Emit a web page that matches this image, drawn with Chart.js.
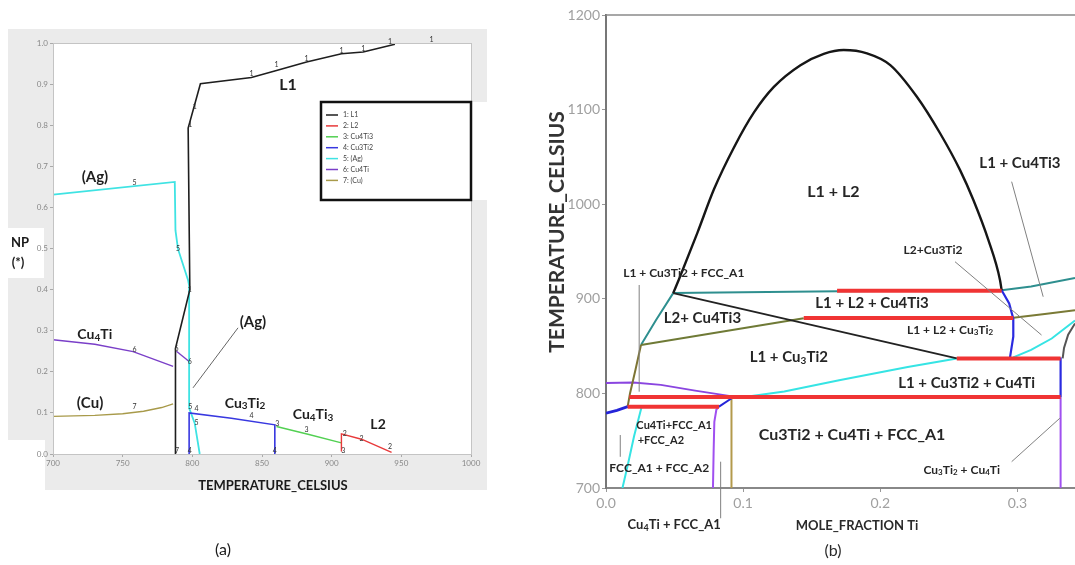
<!DOCTYPE html>
<html>
<head>
<meta charset="utf-8">
<script src="https://cdn.jsdelivr.net/npm/chart.js@4.4.0/dist/chart.umd.min.js"></script>
<style>
body { margin: 0; width: 1075px; height: 565px; background: #fff; position: relative; overflow: hidden; }
.bg { position: absolute; background: #ebebeb; }
.wh { position: absolute; background: #fff; }
canvas { position: absolute; top: 0; }
#ca { left: 0; }
#cb { left: 540px; }
</style>
</head>
<body>
<div class="bg" style="left:8px;top:29px;width:479px;height:461px"></div>
<div class="wh" style="left:8px;top:440px;width:37px;height:50px"></div>
<div class="wh" style="left:471px;top:102px;width:16px;height:98px"></div>
<div class="wh" style="left:8px;top:228px;width:36px;height:50px"></div>
<canvas id="ca" width="540" height="565"></canvas>
<canvas id="cb" width="535" height="565"></canvas>
<script>
// ---------- (a) phase fractions vs temperature ----------
const tempTicks = [700, 750, 800, 850, 900, 950, 1000];
const npTicks = [0, 0.1, 0.2, 0.3, 0.4, 0.5, 0.6, 0.7, 0.8, 0.9, 1.0];

const seriesNames = ['1: L1', '2: L2', '3: Cu4Ti3', '4: Cu3Ti2', '5: (Ag)', '6: Cu4Ti', '7: (Cu)'];
const seriesColors = ['#1e1e1e', '#e8393a', '#52d052', '#3838e0', '#3fe3e3', '#7a3fc8', '#a89a4a'];

const npL1 = [[787.9, 0], [787.9, 0.257], [798.2, 0.40], [797.0, 0.793], [805.8, 0.901], [842.4, 0.916],
  [860.4, 0.933], [882, 0.954], [907, 0.974], [922.6, 0.978], [945.4, 0.997]];
const npL2 = [[907, 0.006], [907, 0.049], [921.4, 0.036], [943, 0.004]];
const npCu4Ti3 = [[860.4, 0.067], [883, 0.048], [907, 0.027]];
const npCu3Ti2 = [[797.7, 0], [797.7, 0.1], [828, 0.087], [859.2, 0.071], [859.2, 0]];
const npAg = [[700, 0.631], [787.4, 0.662], [787.9, 0.544], [789.7, 0.499], [797, 0.422], [797.7, 0.41],
  [797.7, 0.112], [801.7, 0.075], [805.3, 0]];
const npCu4Ti = [[700, 0.278], [730, 0.267], [757.5, 0.249], [786.2, 0.213]];
const npCu4TiB = [[788.6, 0.25], [797.7, 0.225]];
const npCu = [[700, 0.0915], [730, 0.094], [750, 0.098], [765, 0.104], [778, 0.113], [786.2, 0.122]];

// curve numbers printed along the lines
const npMarks = [['1', 842.4, 0.925], ['1', 860.4, 0.946], ['1', 882, 0.962], ['1', 907, 0.98], ['1', 922.6, 0.985],
  ['1', 941.8, 1.003], ['1', 971.7, 1.008], ['1', 801.7, 0.844], ['1', 798.6, 0.802], ['1', 798.2, 0.4],
  ['5', 758.6, 0.659], ['5', 789.8, 0.499], ['6', 788.6, 0.257], ['6', 758.6, 0.253], ['6', 798.2, 0.225],
  ['7', 758.6, 0.116], ['5', 798.6, 0.114], ['4', 803, 0.109], ['4', 842.4, 0.093], ['5', 803, 0.075],
  ['3', 861, 0.074], ['3', 882, 0.059], ['2', 909.5, 0.049], ['2', 921.4, 0.036], ['2', 941.8, 0.017],
  ['3', 908.3, 0.009], ['4', 859.2, 0.009], ['4', 798.2, 0.009], ['7', 789, 0.009]];

const npLabels = [['L1', 868.7, 0.898, 16], ['(Ag)', 730.1, 0.674, 15], ['Cu~4Ti', 730, 0.29, 14],
  ['(Ag)', 843.5, 0.321, 15], ['(Cu)', 726.6, 0.124, 15], ['Cu~3Ti~2', 837.8, 0.124, 14],
  ['Cu~4Ti~3', 886.6, 0.095, 14], ['L2', 933.3, 0.071, 14]];
const npLeaders = [[832.8, 0.307, 800.5, 0.161]];

// ---------- (b) isopleth ----------
const moleTicks = [0, 0.1, 0.2, 0.3];
const tempTicksB = [700, 800, 900, 1000, 1100, 1200];

const gapDome = [[0.049, 906], [0.0533, 921], [0.0667, 970], [0.0788, 1016], [0.0933, 1060], [0.1079, 1097],
  [0.1224, 1124], [0.1418, 1147], [0.1588, 1159], [0.1733, 1163], [0.1903, 1159.5], [0.2073, 1147.1],
  [0.2267, 1113.6], [0.2436, 1075], [0.2582, 1036], [0.2679, 1004.4], [0.2788, 962.2], [0.2873, 919.9], [0.2885, 909]];
const tieLine = [[0.049, 906], [0.2558, 837]];
const tealTop = [[0.049, 906], [0.10, 907], [0.17, 908], [0.2885, 909], [0.31, 913], [0.342, 922]];
const tealLeft = [[0.049, 906], [0.0365, 877.6], [0.0255, 851.2]];
const oliveLeft = [[0.0255, 851.2], [0.0215, 825], [0.0175, 800], [0.0158, 786]];
const oliveMid = [[0.0255, 851.2], [0.1442, 879.4]];
const oliveRight = [[0.297, 880], [0.32, 884], [0.342, 888]];
const cyanMid = [[0.105, 797], [0.13, 802], [0.17, 814], [0.22, 828], [0.2558, 837]];
const cyanRight = [[0.297, 838], [0.31, 846], [0.325, 858], [0.342, 877]];
const cyanLow = [[0.012, 700], [0.016, 725], [0.0205, 755], [0.026, 786]];
const purpleTop = [[0, 811], [0.02, 811.5], [0.04, 809], [0.065, 803], [0.0933, 796.5]];
const purpleLow = [[0.078, 700], [0.0785, 740], [0.079, 770], [0.0805, 783], [0.0824, 786]];
const purpleRight = [[0.3315, 700], [0.3315, 796]];
const blueLow = [[0, 779], [0.008, 782], [0.0158, 786]];
const blueStep = [[0.0824, 786], [0.0933, 796.5]];
const blueRight = [[0.2885, 909], [0.294, 895], [0.297, 879], [0.297, 860], [0.2945, 837]];
const blueEdge = [[0.3315, 796], [0.3315, 838]];
const tanLine = [[0.0915, 700], [0.0915, 796.5]];
const darkRight = [[0.342, 874], [0.337, 862], [0.334, 848], [0.333, 837]];
const redLines = [
  [[0.1685, 908.5], [0.2885, 908.5]],
  [[0.1442, 879.6], [0.297, 879.6]],
  [[0.2558, 837], [0.3315, 837]],
  [[0.017, 796.2], [0.3315, 796.2]],
  [[0.0158, 786], [0.0824, 786]]
];

const isoLabels = [['L1 + Cu3Ti2 + FCC_A1', 0.0567, 927, 12], ['L1 + L2', 0.1658, 1013, 16],
  ['L1 + Cu4Ti3', 0.3018, 1043.6, 15], ['L2+Cu3Ti2', 0.2385, 951.6, 12], ['L1 + L2 + Cu4Ti3', 0.194, 895.2, 15],
  ['L2+ Cu4Ti3', 0.0703, 879.4, 15], ['L1 + L2 + Cu~3Ti~2', 0.2509, 867, 12], ['L1 + Cu~3Ti2', 0.1333, 838.2, 15],
  ['L1 + Cu3Ti2 + Cu4Ti', 0.263, 810.7, 15], ['Cu4Ti+FCC_A1', 0.0497, 766.6, 11], ['+FCC_A2', 0.04, 750.7, 11],
  ['FCC_A1 + FCC_A2', 0.0388, 720.8, 12], ['Cu3Ti2 + Cu4Ti + FCC_A1', 0.1794, 756, 16],
  ['Cu~3Ti~2 + Cu~4Ti', 0.2594, 719, 12], ['Cu~4Ti + FCC_A1', 0.0497, 660.9, 13]];
const isoLeaders = [[0.0242, 914.6, 0.0242, 801.8], [0.2958, 1023.8, 0.3188, 902.2], [0.2545, 939.2, 0.3176, 861.7],
  [0.0104, 756, 0.0104, 733], [0.2958, 727.8, 0.3309, 773.7], [0.0836, 727.8, 0.0836, 668]];

const FONT = 'Lato, "Open Sans", sans-serif';

function line(points, color, width, order, smooth) {
  const ds = {
    data: points.map(([x, y]) => ({ x, y })),
    borderColor: color,
    borderWidth: width,
    showLine: true,
    pointRadius: 0,
    fill: false,
    tension: 0,
    order: order || 1
  };
  if (smooth) {
    ds.cubicInterpolationMode = 'monotone';
  }
  return ds;
}

// "~" makes the next character a subscript
function drawRich(ctx, text, x, y, size, color) {
  const parts = [];
  for (let i = 0; i < text.length; i++) {
    if (text[i] === '~') {
      parts.push([text[++i], true]);
    } else {
      parts.push([text[i], false]);
    }
  }
  const big = `bold ${size}px ${FONT}`;
  const small = `bold ${Math.round(size * 0.68)}px ${FONT}`;
  let w = 0;
  parts.forEach(([c, sub]) => { ctx.font = sub ? small : big; w += ctx.measureText(c).width; });
  let cx = x - w / 2;
  ctx.fillStyle = color;
  ctx.textAlign = 'left';
  ctx.textBaseline = 'middle';
  parts.forEach(([c, sub]) => {
    ctx.font = sub ? small : big;
    ctx.fillText(c, cx, sub ? y + size * 0.22 : y);
    cx += ctx.measureText(c).width;
  });
}

function notes(labels, leaders, leaderColor, textColor) {
  return {
    id: 'notes',
    afterDatasetsDraw(chart) {
      const { ctx, scales: { x, y } } = chart;
      ctx.save();
      ctx.strokeStyle = leaderColor;
      ctx.lineWidth = 1;
      leaders.forEach(([x1, y1, x2, y2]) => {
        ctx.beginPath();
        ctx.moveTo(x.getPixelForValue(x1), y.getPixelForValue(y1));
        ctx.lineTo(x.getPixelForValue(x2), y.getPixelForValue(y2));
        ctx.stroke();
      });
      labels.forEach(([t, vx, vy, size]) => {
        drawRich(ctx, t, x.getPixelForValue(vx), y.getPixelForValue(vy), size, textColor);
      });
      ctx.restore();
    }
  };
}

const panelA = {
  id: 'panelA',
  beforeDraw(chart) {
    const { ctx, chartArea: a } = chart;
    ctx.save();
    ctx.fillStyle = '#fff';
    ctx.fillRect(a.left, a.top, a.right - a.left, a.bottom - a.top);
    ctx.restore();
  },
  afterDraw(chart) {
    const { ctx, chartArea: a, scales: { x, y } } = chart;
    ctx.save();
    ctx.strokeStyle = '#c4c4c4';
    ctx.lineWidth = 1;
    ctx.strokeRect(a.left + 0.5, a.top + 0.5, a.right - a.left, a.bottom - a.top);

    ctx.fillStyle = '#333';
    ctx.font = `7px ${FONT}`;
    ctx.textAlign = 'center';
    ctx.textBaseline = 'middle';
    npMarks.forEach(([t, vx, vy]) => ctx.fillText(t, x.getPixelForValue(vx), y.getPixelForValue(vy)));

    // legend box
    const lx = a.right - 150, ly = 102;
    ctx.fillStyle = '#fff';
    ctx.fillRect(lx, ly, 150, 98);
    ctx.strokeStyle = '#111';
    ctx.lineWidth = 2.5;
    ctx.strokeRect(lx, ly, 150, 98);
    ctx.font = `7px ${FONT}`;
    ctx.textAlign = 'left';
    seriesNames.forEach((name, i) => {
      const yy = ly + 13 + i * 10.9;
      ctx.strokeStyle = seriesColors[i];
      ctx.lineWidth = 1.5;
      ctx.beginPath();
      ctx.moveTo(lx + 5, yy);
      ctx.lineTo(lx + 17, yy);
      ctx.stroke();
      ctx.fillStyle = '#444';
      ctx.fillText(name, lx + 22, yy);
    });

    ctx.fillStyle = '#1a1a1a';
    ctx.textAlign = 'center';
    ctx.font = `bold 13px ${FONT}`;
    ctx.fillText('NP', 20, 243);
    ctx.fillText('(*)', 18, 263);
    ctx.fillText('TEMPERATURE_CELSIUS', 273, 486);
    ctx.font = `16px ${FONT}`;
    ctx.fillText('(a)', 223, 550);
    ctx.restore();
  }
};

const panelB = {
  id: 'panelB',
  afterDraw(chart) {
    const { ctx, chartArea: a } = chart;
    ctx.save();
    ctx.strokeStyle = '#8a8a8a';
    ctx.lineWidth = 1.5;
    ctx.beginPath();
    ctx.moveTo(a.left, a.top);
    ctx.lineTo(a.right, a.top);
    ctx.stroke();
    ctx.fillStyle = '#2a2a2a';
    ctx.textAlign = 'center';
    ctx.textBaseline = 'middle';
    ctx.font = `bold 13px ${FONT}`;
    ctx.fillText('MOLE_FRACTION Ti', 317, 526);
    ctx.font = `16px ${FONT}`;
    ctx.fillText('(b)', 293, 551);
    ctx.translate(17, 232);
    ctx.rotate(-Math.PI / 2);
    ctx.fillStyle = '#333';
    ctx.font = `bold 21px ${FONT}`;
    ctx.fillText('TEMPERATURE_CELSIUS', 0, 0);
    ctx.restore();
  }
};

const baseOptions = {
  responsive: false,
  animation: false,
  events: [],
  plugins: { legend: { display: false }, tooltip: { enabled: false } }
};

new Chart(document.getElementById('ca'), {
  type: 'scatter',
  data: {
    datasets: [
      line(npL1, seriesColors[0], 1.6),
      line(npL2, seriesColors[1], 1.4),
      line(npCu4Ti3, seriesColors[2], 1.4),
      line(npCu3Ti2, seriesColors[3], 1.6),
      line(npAg, seriesColors[4], 1.8),
      line(npCu4Ti, seriesColors[5], 1.4),
      line(npCu4TiB, seriesColors[5], 1.4),
      line(npCu, seriesColors[6], 1.4)
    ]
  },
  options: {
    ...baseOptions,
    layout: { padding: { top: 43, right: 69, left: 0, bottom: 0 } },
    scales: {
      x: {
        type: 'linear', min: 700, max: 1000,
        afterFit: s => { s.height = 111; },
        afterBuildTicks: s => { s.ticks = tempTicks.map(v => ({ value: v })); },
        ticks: { font: { size: 8, family: FONT }, color: '#888', padding: 2, maxRotation: 0, autoSkip: false, callback: v => String(v) },
        grid: { drawOnChartArea: false, tickLength: 3, color: '#aaa' },
        border: { color: '#c4c4c4' }
      },
      y: {
        type: 'linear', min: 0, max: 1,
        afterFit: s => { s.width = 53; },
        afterBuildTicks: s => { s.ticks = npTicks.map(v => ({ value: v })); },
        ticks: { font: { size: 8, family: FONT }, color: '#888', padding: 2, autoSkip: false, callback: v => v.toFixed(1) },
        grid: { drawOnChartArea: false, tickLength: 3, color: '#aaa' },
        border: { color: '#c4c4c4' }
      }
    }
  },
  plugins: [panelA, notes(npLabels, npLeaders, '#666', '#1f1f1f')]
});

const isoSets = [
  line(tealTop, '#2e8f8f', 2, 5),
  line(tealLeft, '#2e8f8f', 2, 5),
  line(cyanMid, '#36e4e4', 2, 5),
  line(cyanRight, '#36e4e4', 2, 5),
  line(cyanLow, '#36e4e4', 2, 5),
  line(purpleTop, '#8a45e0', 1.8, 5),
  line(purpleLow, '#a050f0', 2, 5),
  line(purpleRight, '#a050f0', 2, 5),
  line(oliveLeft, '#7d7434', 2, 4),
  line(oliveMid, '#6f7a36', 2, 4),
  line(oliveRight, '#7a7a36', 2, 4),
  line(tanLine, '#b39a4c', 2, 4),
  line(darkRight, '#555', 2, 4),
  line(blueLow, '#2424d8', 2.8, 3),
  line(blueStep, '#2424d8', 2, 3),
  line(blueRight, '#2a2ae0', 2.2, 3),
  line(blueEdge, '#2a2ae0', 2.2, 3),
  line(tieLine, '#222', 2, 2),
  line(gapDome, '#161616', 2.4, 2, true),
  ...redLines.map(seg => line(seg, '#f03434', 4, 0))
];

new Chart(document.getElementById('cb'), {
  type: 'scatter',
  data: { datasets: isoSets },
  options: {
    ...baseOptions,
    layout: { padding: { top: 15, right: 0, left: 0, bottom: 0 } },
    scales: {
      x: {
        type: 'linear', min: 0, max: 0.342,
        afterFit: s => { s.height = 77; },
        afterBuildTicks: s => { s.ticks = moleTicks.map(v => ({ value: v })); },
        ticks: { font: { size: 14, family: FONT }, color: '#a0a0a0', padding: 3, maxRotation: 0, autoSkip: false, callback: v => v.toFixed(1) },
        grid: { drawOnChartArea: false, tickLength: 4, color: '#999' },
        border: { color: '#888', width: 2 }
      },
      y: {
        type: 'linear', min: 700, max: 1200,
        afterFit: s => { s.width = 66; },
        afterBuildTicks: s => { s.ticks = tempTicksB.map(v => ({ value: v })); },
        ticks: { font: { size: 14, family: FONT }, color: '#a0a0a0', padding: 2, autoSkip: false, callback: v => String(v) },
        grid: { drawOnChartArea: false, tickLength: 4, color: '#999' },
        border: { color: '#777', width: 2 }
      }
    }
  },
  plugins: [panelB, notes(isoLabels, isoLeaders, '#808080', '#262626')]
});
</script>
</body>
</html>
